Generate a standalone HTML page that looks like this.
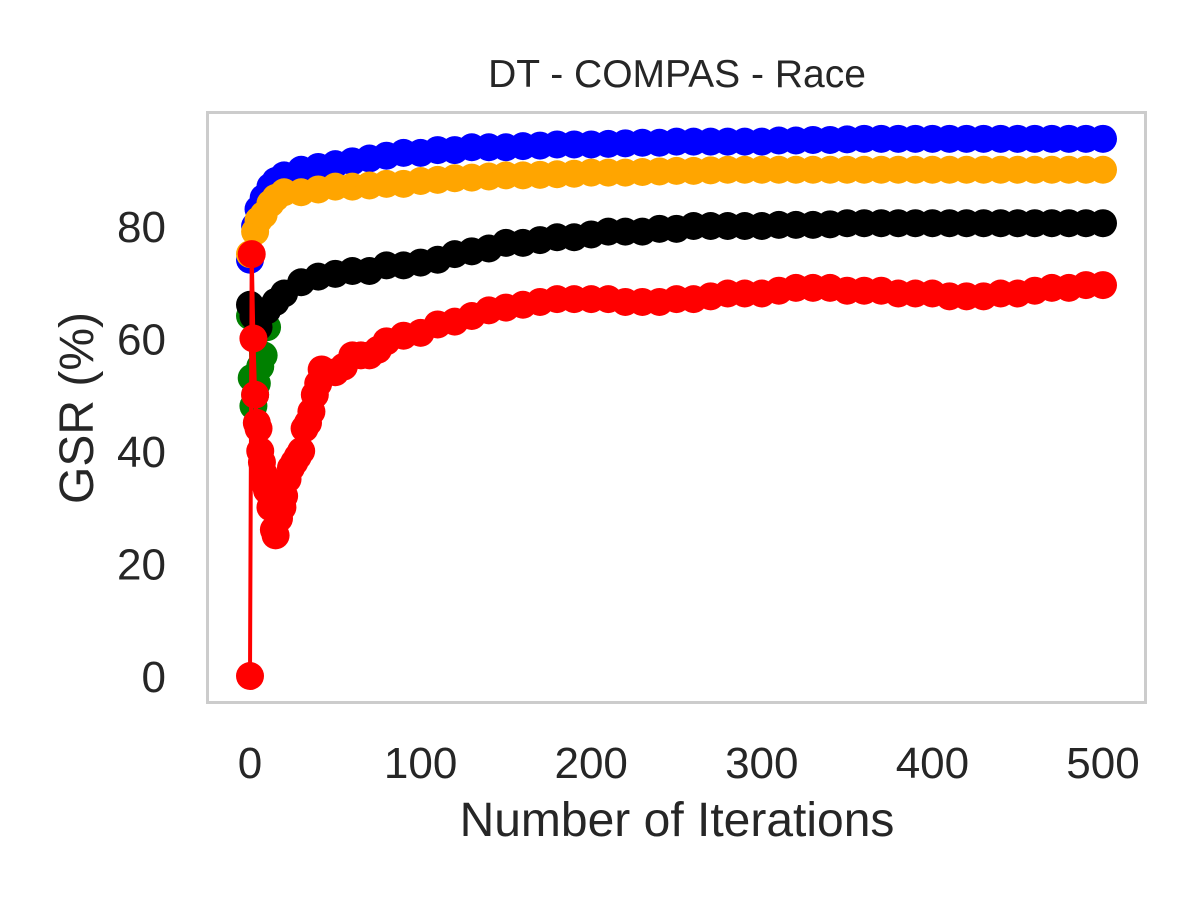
<!DOCTYPE html>
<html><head><meta charset="utf-8"><style>
body{margin:0;background:#fff}
svg{display:block;font-family:"Liberation Sans",Arial,sans-serif}
</style></head><body>
<svg id="chart" width="1200" height="900" viewBox="0 0 1200 900" xmlns="http://www.w3.org/2000/svg">
<rect width="1200" height="900" fill="#fff"/>
<text x="677" y="87" text-anchor="middle" font-size="39" fill="#262626">DT - COMPAS - Race</text>
<g id="series"></g>
<rect x="207.5" y="112.5" width="938" height="590" fill="none" stroke="#cccccc" stroke-width="3"/>
<g id="xticks"></g>
<g id="yticks"></g>
<text x="677" y="836" text-anchor="middle" font-size="48" fill="#262626">Number of Iterations</text>
<text transform="translate(93,408) rotate(-90)" text-anchor="middle" font-size="48" fill="#262626">GSR (%)</text>
</svg>
<script>
const xTicks=[0,100,200,300,400,500];
const yTicks=[0,20,40,60,80];
const redIt=[0,1,2,3,4,5,6,7,8,9,10,12,14,15,17,19,20,22,24,26,28,30,32,34,36,38,40,42,45,50,55,60,65,70,75,80,90,100,110,120,130,140,150,160,170,180,190,200,210,220,230,240,250,260,270,280,290,300,310,320,330,340,350,360,370,380,390,400,410,420,430,440,450,460,470,480,490,500];
const redVal=[0,75,60,50,45,44,40,38,36,34,33,30,26,25,28,30,32,35,37,38,39,40,44,45,47,50,52,54.5,54,54,55,57,57,57,58,59.5,60.5,61,62.5,63,64,65,65.5,66,66.5,67,67,67,67,66.5,66.5,66.5,67,67,67.5,68,68,68,68.5,69,69,69,68.5,68.5,68.5,68,68,68,67.5,67.5,67.5,68,68,68.5,69,69,69.5,69.5];
const blkIt=[0,2,5,10,15,20,30,40,50,60,70,80,90,100,110,120,130,140,150,160,170,180,190,200,210,220,230,240,250,260,270,280,290,300,310,320,330,340,350,360,370,380,390,400,410,420,430,440,450,460,470,480,490,500];
const blkVal=[66,64,62,65,66.5,68,70,71,71.5,72,72,73,73,73.5,74,75,75.5,76,77,77,77.5,78,78,78.5,79,79,79,79.5,79.5,80,80,80,80,80,80.2,80.2,80.2,80.3,80.5,80.5,80.5,80.5,80.5,80.5,80.5,80.5,80.5,80.5,80.5,80.5,80.5,80.5,80.5,80.5];
const grnIt=[0,1,2,3,4,6,8,10];
const grnVal=[64,53,48,50,52,55,57,62];
const bluIt=[0,3,5,8,12,15,20,30,40,50,60,70,80,90,100,110,120,130,140,150,160,170,180,190,200,210,220,230,240,250,260,270,280,290,300,310,320,330,340,350,360,370,380,390,400,410,420,430,440,450,460,470,480,490,500];
const bluVal=[74,80,83,85,87,88,89,90,90.5,91,91.5,92,92.5,93,93,93.5,93.5,94,94,94,94.2,94.3,94.5,94.5,94.5,94.6,94.7,94.8,94.8,95,95,95,95,95,95,95.2,95.2,95.3,95.3,95.4,95.5,95.5,95.5,95.5,95.5,95.5,95.5,95.5,95.5,95.5,95.5,95.5,95.5,95.5,95.5];
const orgIt=[0,3,5,8,12,15,20,30,40,50,60,70,80,90,100,110,120,130,140,150,160,170,180,190,200,210,220,230,240,250,260,270,280,290,300,310,320,330,340,350,360,370,380,390,400,410,420,430,440,450,460,470,480,490,500];
const orgVal=[75,79,81,82,84,85,86,86,86.5,87,87,87.2,87.5,87.5,88,88.2,88.5,88.6,88.8,89,89,89.1,89.2,89.3,89.5,89.5,89.5,89.6,89.7,89.8,89.8,89.9,90,90,90,90,90,90,90,90,90,90,90,90,90,90,90,90,90,90,90,90,90,90,90];

const NS='http://www.w3.org/2000/svg';
const xs=v=>250+v*(1103-250)/500;
const ys=v=>676-v*(676-226)/80;
const g=document.getElementById('series');
function draw(name,color,its,vals){
  const grp=document.createElementNS(NS,'g');
  
  
  const pl=document.createElementNS(NS,'polyline');
  pl.setAttribute('points',its.map((t,i)=>xs(t)+','+ys(vals[i])).join(' '));
  pl.setAttribute('fill','none');pl.setAttribute('stroke',color);pl.setAttribute('stroke-width','4');
  pl.setAttribute('stroke-linejoin','round');
  
  
  grp.appendChild(pl);
  its.forEach((t,i)=>{
    const c=document.createElementNS(NS,'circle');
    c.setAttribute('cx',xs(t));c.setAttribute('cy',ys(vals[i]));c.setAttribute('r','14');c.setAttribute('fill',color);
    
    
    grp.appendChild(c);
  });
  g.appendChild(grp);
}
draw('blue-series','#0000ff',bluIt,bluVal);
draw('orange-series','#ffa500',orgIt,orgVal);
draw('green-series','#008000',grnIt,grnVal);
draw('black-series','#000000',blkIt,blkVal);
draw('red-series','#ff0000',redIt,redVal);
const xt=document.getElementById('xticks');
xTicks.forEach(v=>{const t=document.createElementNS(NS,'text');t.setAttribute('x',xs(v));t.setAttribute('y',778);t.setAttribute('text-anchor','middle');t.setAttribute('font-size','44');t.setAttribute('fill','#262626');t.textContent=v;


xt.appendChild(t);});
const yt=document.getElementById('yticks');
yTicks.forEach(v=>{const t=document.createElementNS(NS,'text');t.setAttribute('x',166);t.setAttribute('y',ys(v)+16);t.setAttribute('text-anchor','end');t.setAttribute('font-size','44');t.setAttribute('fill','#262626');t.textContent=v;


yt.appendChild(t);});
</script>
</body></html>
